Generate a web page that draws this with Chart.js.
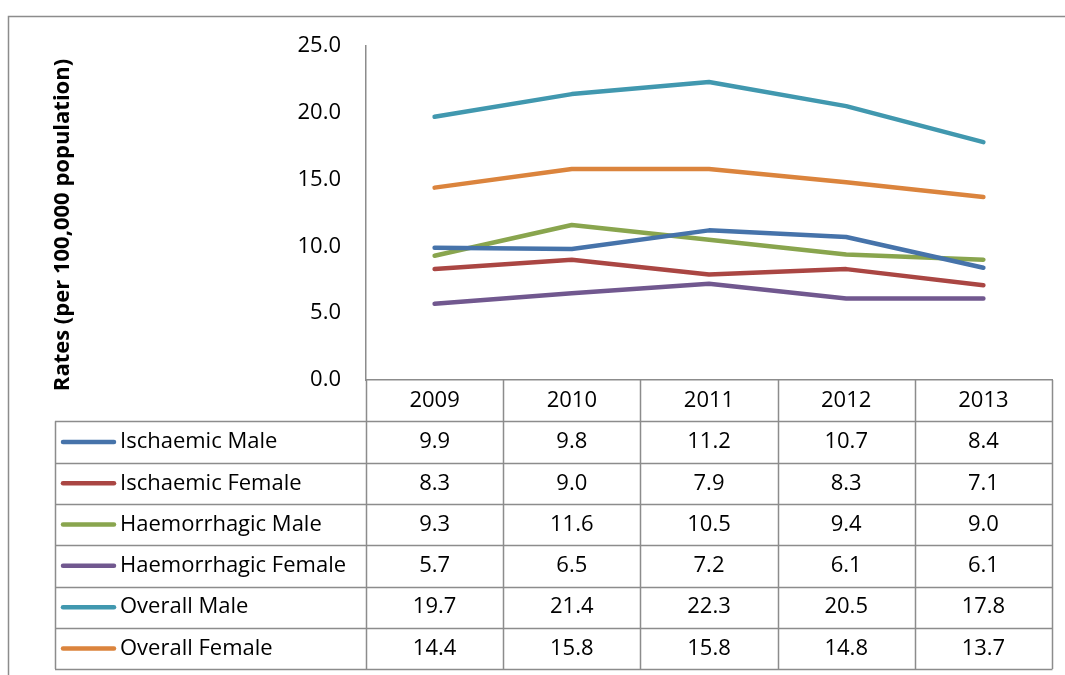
<!DOCTYPE html>
<html lang="en">
<head>
<meta charset="UTF-8">
<title>Stroke rates by type and sex, 2009-2013</title>
<script src="https://cdn.jsdelivr.net/npm/chart.js"></script>
<style>
  html, body { margin: 0; padding: 0; background: #fff; }
  #wrap { width: 1065px; height: 675px; }
</style>
</head>
<body>
<div id="wrap"><canvas id="chart" width="1065" height="675"></canvas></div>
<script>
// data
const years = ['2009', '2010', '2011', '2012', '2013'];
const ischaemicMale = [9.9, 9.8, 11.2, 10.7, 8.4];
const ischaemicFemale = [8.3, 9.0, 7.9, 8.3, 7.1];
const haemorrhagicMale = [9.3, 11.6, 10.5, 9.4, 9.0];
const haemorrhagicFemale = [5.7, 6.5, 7.2, 6.1, 6.1];
const overallMale = [19.7, 21.4, 22.3, 20.5, 17.8];
const overallFemale = [14.4, 15.8, 15.8, 14.8, 13.7];
const seriesNames = ['Ischaemic Male', 'Ischaemic Female', 'Haemorrhagic Male',
  'Haemorrhagic Female', 'Overall Male', 'Overall Female'];
const yTicks = [0, 5, 10, 15, 20, 25];

const seriesData = [ischaemicMale, ischaemicFemale, haemorrhagicMale,
  haemorrhagicFemale, overallMale, overallFemale];
const colors = ['#4673AA', '#AA4643', '#89A54E', '#71588F', '#4198AF', '#DB843D'];

const FONT = "'Open Sans', 'Liberation Sans', sans-serif";
const GRID = '#8c8c8c';
const TXT = 22;

// draws the frame, the y title and the data table with its legend keys
const tablePlugin = {
  id: 'dataTable',
  afterDraw(chart) {
    const ctx = chart.ctx;
    const xs = chart.scales.x;
    const area = chart.chartArea;
    const half = (xs.getPixelForValue(1) - xs.getPixelForValue(0)) / 2;
    const top = area.bottom;
    const rowH = 41.3;
    const nRows = seriesNames.length;
    const bottom = top + rowH * (nRows + 1);
    const legendLeft = 55;

    ctx.save();
    // outer frame of the chart object
    ctx.strokeStyle = GRID;
    ctx.lineWidth = 1.5;
    ctx.beginPath();
    ctx.moveTo(8.5, 675);
    ctx.lineTo(8.5, 16.5);
    ctx.lineTo(1065, 16.5);
    ctx.stroke();

    // table grid
    ctx.beginPath();
    for (let i = 0; i <= years.length; i++) {
      const x = Math.round(xs.getPixelForValue(i) - half) + 0.5;
      ctx.moveTo(x, top);
      ctx.lineTo(x, bottom);
    }
    for (let r = 1; r <= nRows + 1; r++) {
      const y = Math.round(top + rowH * r) + 0.5;
      ctx.moveTo(legendLeft, y);
      ctx.lineTo(Math.round(area.right) + 0.5, y);
    }
    ctx.moveTo(legendLeft + 0.5, top + rowH);
    ctx.lineTo(legendLeft + 0.5, bottom);
    ctx.stroke();

    // rows: legend key, name, values
    ctx.textBaseline = 'middle';
    ctx.font = TXT + 'px ' + FONT;
    seriesNames.forEach((name, r) => {
      const cy = top + rowH * (r + 1.5);
      ctx.strokeStyle = colors[r];
      ctx.lineWidth = 4.5;
      ctx.lineCap = 'round';
      ctx.beginPath();
      ctx.moveTo(63, cy);
      ctx.lineTo(114, cy);
      ctx.stroke();
      ctx.fillStyle = '#000';
      ctx.textAlign = 'left';
      ctx.fillText(name, 120, cy);
      ctx.textAlign = 'center';
      seriesData[r].forEach((v, i) => {
        ctx.fillText(v.toFixed(1), xs.getPixelForValue(i), cy);
      });
    });

    // y axis title
    ctx.translate(63, 225);
    ctx.rotate(-Math.PI / 2);
    ctx.font = 'bold 22px ' + FONT;
    ctx.textAlign = 'center';
    ctx.fillStyle = '#000';
    ctx.fillText('Rates (per 100,000 population)', 0, 0);
    ctx.restore();
  }
};

new Chart(document.getElementById('chart'), {
  type: 'line',
  data: {
    labels: years,
    datasets: seriesNames.map((name, i) => ({
      label: name,
      data: seriesData[i],
      borderColor: colors[i],
      backgroundColor: colors[i],
      borderWidth: 4.5,
      borderCapStyle: 'round',
      borderJoinStyle: 'round',
      pointRadius: 0,
      tension: 0
    }))
  },
  options: {
    responsive: false,
    animation: false,
    layout: { padding: { top: 46, right: 13, left: 0, bottom: 0 } },
    plugins: { legend: { display: false }, tooltip: { enabled: false } },
    scales: {
      x: {
        offset: true,
        afterFit: s => { s.height = 295; },
        grid: { display: false, drawTicks: false },
        border: { display: true, color: GRID, width: 1.5 },
        ticks: { color: '#000', padding: 8, font: { family: FONT, size: TXT } }
      },
      y: {
        min: 0,
        max: 25,
        afterFit: s => { s.width = 366; },
        afterBuildTicks: s => { s.ticks = yTicks.map(v => ({ value: v })); },
        grid: { display: false, drawTicks: false },
        border: { display: true, color: GRID, width: 1.5 },
        ticks: {
          color: '#000',
          padding: 25,
          font: { family: FONT, size: TXT },
          callback: v => v.toFixed(1)
        }
      }
    }
  },
  plugins: [tablePlugin]
});
</script>
</body>
</html>
